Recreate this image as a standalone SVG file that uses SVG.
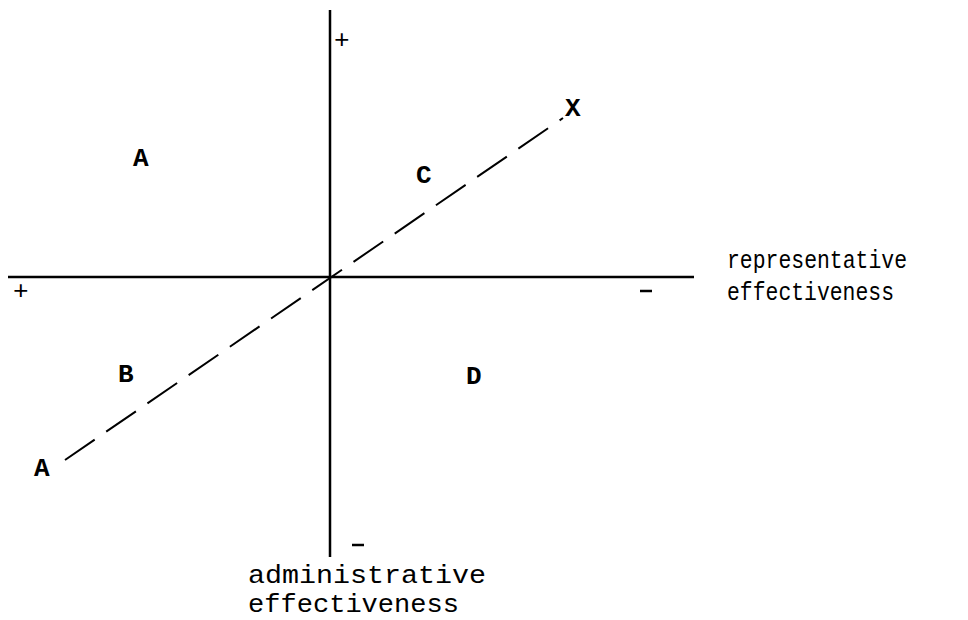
<svg xmlns="http://www.w3.org/2000/svg" width="968" height="620" viewBox="0 0 968 620">
<style>
.t{font-family:"Liberation Mono","Courier New",monospace;font-size:26px;fill:#000}
.s{font-family:"Liberation Mono","Courier New",monospace;font-size:26px;fill:#000}
.b{font-family:"Liberation Mono","Courier New",monospace;font-size:26px;font-weight:bold;fill:#000}
.ax{stroke:#000;stroke-width:2.5;fill:none}
.ds{stroke:#000;stroke-width:2;fill:none;stroke-dasharray:36 14}
.m{stroke:#000;stroke-width:2.5}
</style>
<rect width="968" height="620" fill="#fff"/>
<g id="axes">
<line class="ax" x1="330" y1="10" x2="330" y2="557"/>
<line class="ax" x1="8" y1="277" x2="694" y2="277"/>
</g>
<g id="connectors">
<line class="ds" x1="65" y1="460" x2="563" y2="118"/>
</g>
<g id="signs">
<text class="s" x="13" y="299">+</text>
<text class="s" x="334" y="48">+</text>
<line class="m" x1="640" y1="291" x2="652" y2="291"/>
<line class="m" x1="352" y1="545" x2="364" y2="545"/>
</g>
<g id="quadrant-A"><text class="b" x="133" y="166">A</text></g>
<g id="quadrant-C"><text class="b" x="416" y="183">C</text></g>
<g id="quadrant-B"><text class="b" x="118" y="382">B</text></g>
<g id="quadrant-D"><text class="b" x="466" y="384">D</text></g>
<g id="point-X"><text class="b" x="565" y="116">X</text></g>
<g id="point-A"><text class="b" x="34" y="476">A</text></g>
<g id="label-representative">
<text class="t" x="727" y="268" textLength="180" lengthAdjust="spacingAndGlyphs">representative</text>
<text class="t" x="727" y="300" textLength="167" lengthAdjust="spacingAndGlyphs">effectiveness</text>
</g>
<g id="label-administrative">
<text class="t" x="248" y="583" textLength="238" lengthAdjust="spacingAndGlyphs">administrative</text>
<text class="t" x="248" y="612" textLength="211" lengthAdjust="spacingAndGlyphs">effectiveness</text>
</g>
</svg>
